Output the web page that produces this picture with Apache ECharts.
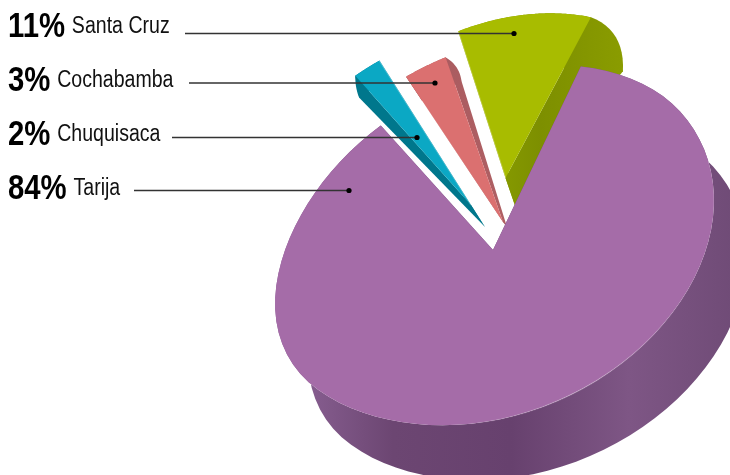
<!DOCTYPE html>
<html>
<head>
<meta charset="utf-8">
<style>
  html, body { margin: 0; padding: 0; background: #fff; }
  #main { width: 730px; height: 475px; }
</style>
<script src="https://cdn.jsdelivr.net/npm/echarts@6/dist/echarts.min.js"></script>
</head>
<body>
<div id="main"></div>
<script>
// data, in the order the slices run clockwise
const categories = ["Tarija", "Chuquisaca", "Cochabamba", "Santa Cruz"];
const shares = [84, 2, 3, 11];
const labelOrder = [3, 2, 1, 0];

// tilted pie plane: ellipse axes and rotation, first slice starts here (degrees)
const axes = [228.8, 170.5];
const tilt = -25.8 * Math.PI / 180;
const startAngle = -46.5;

// per slice look
const tips = [[493, 250], [471, 205], [503, 222], [505.5, 178]];
const arcCentres = [[495, 242], [471, 205], [503, 222], [505.5, 178]];
const radii = [1, 1.0, 1.02, 0.9];
const spins = [0, 2, 1, 2];
const warped = [true, false, false, false]; // perspective on the big slice only
const depths = [[33, 55], [4, 22], [16, 24], [32, 54]];
const tipDepths = [[33, 55], [14, 22], [4, 5], [10, 29]];
const bows = [null, [-1, 1], [3, -2], [9, -7]];
const faceColors = ["#a56ca8", "#0ba8c4", "#db7070", "#a8bc00"];
const wallColors = [
  ["#90669a", "#6c4672", "#67416e", "#7e5685", "#6e4a75"],
  ["#00778c", "#00778c"],
  ["#a75a5e", "#b06064"],
  ["#8fa500", "#7d8f00", "#8a9c00"]
];
const drawOrder = [40, 10, 20, 30];
// light line along the bevel, [from, to] in degrees around the slice
const bevels = [[35, 122], null, null, null];

// label rows
const labelY = [27, 81, 135, 189];
const lineY = [33.5, 83, 137.5, 190.5];
const lineStart = [185, 189, 172, 134];
const lineEnd = [514, 435, 417, 349];

// far rim pulled in, lower left rim pushed out
function warp(a) {
  const far = Math.max(0, Math.cos(a + 105 * Math.PI / 180));
  const near = Math.cos(a - 178 * Math.PI / 180);
  return 1 - 0.065 * Math.pow(far, 1.5) + 0.04 * (near > 0 ? Math.pow(near, 6) : 0);
}

function toScreen(c, r, deg, useWarp) {
  const a = deg * Math.PI / 180;
  const rr = useWarp ? r * warp(a) : r;
  const u = rr * axes[0] * Math.cos(a), v = rr * axes[1] * Math.sin(a);
  return [
    c[0] + u * Math.cos(tilt) - v * Math.sin(tilt),
    c[1] + u * Math.sin(tilt) + v * Math.cos(tilt)
  ];
}

function arcPoints(i, from, to) {
  const pts = [];
  for (let k = 0; k <= 80; k++) {
    pts.push(toScreen(arcCentres[i], radii[i], from + (to - from) * k / 80, warped[i]));
  }
  return pts;
}

function shift(p, d) {
  return [p[0] + d[0], p[1] + d[1]];
}

function sliceAngles(idx) {
  const total = shares.reduce((a, b) => a + b, 0);
  let from = startAngle + spins[idx];
  for (let i = 0; i < idx; i++) from += shares[i] / total * 360;
  return [from, from + shares[idx] / total * 360];
}

function gradient(stops, x, x2) {
  return {
    type: "linear", global: true, x: x, y: 0, x2: x2, y2: 0,
    colorStops: stops.map((c, i) => ({ offset: i / (stops.length - 1), color: c }))
  };
}

// curved corner between the face and the bottom of the wall
function bowed(from, to, bow) {
  const pts = [];
  if (!bow) return [from, to];
  const cx = (from[0] + to[0]) / 2 + bow[0] * 2, cy = (from[1] + to[1]) / 2 + bow[1] * 2;
  for (let k = 0; k <= 12; k++) {
    const t = k / 12, s = 1 - t;
    pts.push([s * s * from[0] + 2 * s * t * cx + t * t * to[0], s * s * from[1] + 2 * s * t * cy + t * t * to[1]]);
  }
  return pts;
}

function renderSlice(params, api) {
  const i = params.dataIndex;
  const ang = sliceAngles(i);
  const arc = arcPoints(i, ang[0], ang[1]);
  const d = depths[i], td = tipDepths[i];
  const xs = arc.map(p => p[0]).concat(tips[i][0]);
  const x0 = Math.min.apply(null, xs), x1 = Math.max.apply(null, xs) + d[0];
  const fill = gradient(wallColors[i], x0, x1);
  const z = drawOrder[i];
  const first = arc[0], last = arc[arc.length - 1];
  const tip = tips[i], tipLow = shift(tip, td);
  // green and pink show their clockwise end, blue its other end
  const sideFirst = i === 3 || i === 0 ? [first, shift(first, d)] : bowed(first, shift(first, d), bows[i]);
  const sideLast = i === 1 || i === 0 ? [last, shift(last, d)] : bowed(last, shift(last, d), bows[i]);
  const children = [
    { type: "polygon", z2: z, shape: { points: arc.concat(arc.map(p => shift(p, d)).reverse()) }, style: { fill: fill } },
    { type: "polygon", z2: z, shape: { points: [tip].concat(sideFirst, [tipLow]) }, style: { fill: fill } },
    { type: "polygon", z2: z, shape: { points: [tip].concat(sideLast, [tipLow]) }, style: { fill: fill } },
    { type: "polygon", z2: z + 1, shape: { points: [tip].concat(arc) }, style: { fill: faceColors[i] } }
  ];
  if (bevels[i]) {
    const line = arcPoints(i, bevels[i][0], bevels[i][1]);
    children.push({
      type: "polyline", z2: z + 2,
      shape: { points: line },
      style: {
        fill: null, lineWidth: 1.2,
        stroke: {
          type: "linear", global: true, x: line[line.length - 1][0], y: 0, x2: line[0][0], y2: 0,
          colorStops: [
            { offset: 0, color: "rgba(255,255,255,0)" },
            { offset: 0.5, color: "rgba(255,255,255,0.25)" },
            { offset: 1, color: "rgba(255,255,255,0)" }
          ]
        }
      }
    });
  }
  // ridge on the two slices where the wall meets the face in a light line
  if (i === 3 || i === 1) {
    const edge = i === 3 ? first : last;
    children.push({
      type: "line", z2: z + 2,
      shape: { x1: tip[0], y1: tip[1], x2: edge[0], y2: edge[1] },
      style: { stroke: "rgba(255,255,255,0.28)", lineWidth: 1.4 }
    });
  }
  return { type: "group", children: children };
}

function renderLabel(params, api) {
  const row = params.dataIndex;
  const idx = labelOrder[row];
  const y = lineY[row];
  return {
    type: "group",
    children: [
      {
        type: "text", z2: 60, x: 8, y: labelY[row], scaleX: 0.85,
        style: {
          x: 0, y: 0, verticalAlign: "middle",
          text: "{p|" + shares[idx] + "%}{n|" + categories[idx] + "}",
          rich: {
            p: { font: 'bold 34.5px "Liberation Sans"', fill: "#000", padding: [0, 8, 0, 0] },
            n: { font: '23px "Liberation Sans"', fill: "#111" }
          }
        }
      },
      { type: "line", z2: 60, shape: { x1: lineStart[row], y1: y, x2: lineEnd[row], y2: y }, style: { stroke: "#333", lineWidth: 1.5 } },
      { type: "circle", z2: 60, shape: { cx: lineEnd[row], cy: y, r: 2.6 }, style: { fill: "#000" } }
    ]
  };
}

const chart = echarts.init(document.getElementById("main"), null, { renderer: "canvas" });
chart.setOption({
  animation: false,
  backgroundColor: "#fff",
  series: [
    {
      type: "custom",
      name: "slices",
      coordinateSystem: "none",
      renderItem: renderSlice,
      data: shares.map((v, i) => ({ name: categories[i], value: v }))
    },
    {
      type: "custom",
      name: "labels",
      z: 5,
      coordinateSystem: "none",
      renderItem: renderLabel,
      data: labelOrder.map(i => ({ name: categories[i], value: shares[i] }))
    }
  ]
});
</script>
</body>
</html>
